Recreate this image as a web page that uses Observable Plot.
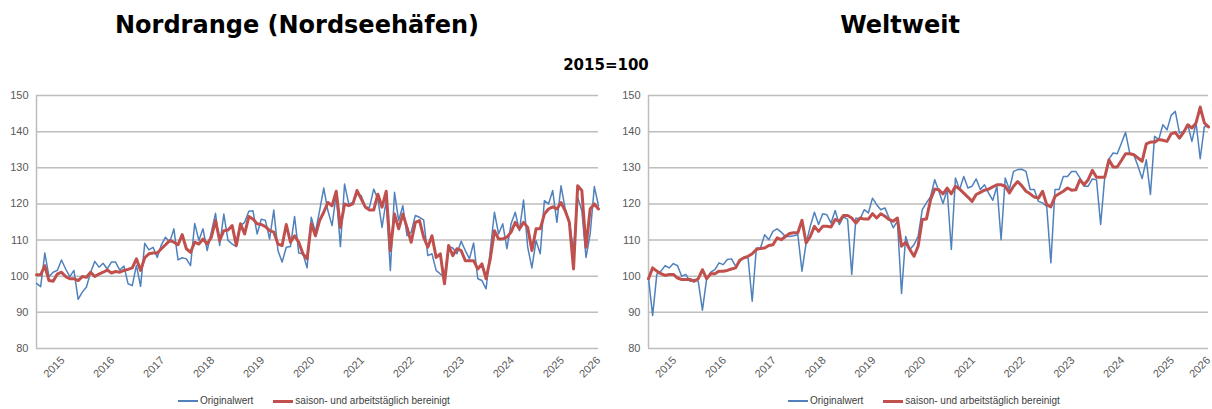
<!DOCTYPE html>
<html>
<head>
<meta charset="utf-8">
<script src="https://cdn.jsdelivr.net/npm/d3@7"></script>
<script src="https://cdn.jsdelivr.net/npm/@observablehq/plot@0.6"></script>
<style>
  html, body { margin: 0; padding: 0; background: #fff; }
  #wrap { position: relative; width: 1212px; height: 409px; overflow: hidden; background: #fff; }
  .title { position: absolute; transform: translateX(-50%); font-family: "DejaVu Sans", Verdana, sans-serif; font-weight: bold; color: #000; white-space: nowrap; line-height: 1; }
  .chart { position: absolute; top: 80px; }
  .legend { position: absolute; top: 396px; display: flex; align-items: center; font-family: "Liberation Sans", Arial, sans-serif; font-size: 10px; color: #404040; white-space: nowrap; line-height: 1; }
  .sw { display: inline-block; width: 20px; margin-right: 2px; }
  .gap { display: inline-block; width: 20px; }
</style>
</head>
<body>
<div id="wrap">
  <div class="title" style="left:297px; top:13px; font-size:24px;">Nordrange (Nordseehäfen)</div>
  <div class="title" style="left:900px; top:13px; font-size:24px;">Weltweit</div>
  <div class="title" style="left:606px; top:58px; font-size:15px;">2015=100</div>
  <div class="chart" id="left" style="left:0px;"></div>
  <div class="chart" id="right" style="left:606px;"></div>
  <div class="legend" id="legL" style="left:178px;"></div>
  <div class="legend" id="legR" style="left:788px;"></div>
</div>
<script>
// Monthly index values, Jan 2015 .. Apr 2026 (2015=100)
const nordOriginal = [
  98.0, 97.1, 106.4, 99.9, 101.1, 101.6, 104.5, 102.0, 99.9, 101.6, 93.6, 95.6,
  97.0, 101.1, 104.1, 102.5, 103.6, 102.0, 103.9, 103.9, 101.7, 102.8, 97.9, 97.4,
  103.0, 97.2, 109.1, 107.3, 108.0, 105.2, 108.7, 110.8, 109.4, 113.1, 104.5, 105.1,
  104.8, 102.9, 114.6, 109.9, 113.1, 107.1, 112.2, 117.4, 108.5, 117.2, 109.9, 108.9,
  108.2, 114.0, 114.9, 118.0, 118.1, 111.7, 115.8, 115.4, 110.3, 118.3, 107.1, 103.9,
  108.0, 108.2, 116.5, 106.4, 106.2, 102.3,
  116.3, 112.2, 118.1, 124.4, 118.1, 114.0, 122.7, 108.2, 125.5, 120.0, 120.4, 122.7,
  122.3, 119.1, 119.1, 124.1, 121.4, 113.5, 120.9, 101.6, 123.2, 115.4, 119.5, 111.2,
  112.2, 116.8, 116.3, 115.6, 105.7, 106.2, 101.6, 100.6, 99.9, 108.2, 107.8, 106.2,
  109.7, 107.1, 104.8, 109.2, 99.3, 98.8, 96.5, 107.1, 117.7, 111.7, 114.5, 107.6,
  114.5, 117.7, 112.6, 121.1, 108.0, 102.3, 109.9, 106.2, 120.9, 120.0, 123.7, 114.9,
  125.0, 118.6, 114.9, 107.1, 121.8, 118.1, 105.2, 111.7, 124.8, 119.5
];
const nordAdjusted = [
  100.4, 100.4, 102.9, 98.8, 98.6, 100.6, 101.1, 99.9, 99.3, 99.3, 98.8, 99.9,
  99.7, 101.1, 99.9, 100.6, 101.1, 101.7, 100.9, 101.3, 101.1, 101.6, 101.9, 102.3,
  104.8, 101.6, 105.1, 106.2, 106.4, 106.4, 107.6, 108.7, 109.9, 109.4, 108.7, 111.5,
  107.6, 106.6, 109.4, 108.9, 110.3, 108.9, 110.8, 115.4, 109.9, 112.6, 112.8, 114.0,
  108.5, 114.5, 111.7, 116.5, 115.8, 114.5, 114.3, 113.7, 112.6, 112.2, 108.9, 108.5,
  114.3, 109.4, 111.2, 109.4, 106.2, 104.8,
  114.5, 111.2, 115.4, 117.7, 120.4, 119.5, 123.5, 113.5, 120.0, 119.5, 120.0, 123.7,
  121.4, 119.1, 118.3, 118.3, 122.7, 119.1, 123.5, 107.1, 117.2, 113.1, 117.2, 113.5,
  109.4, 114.9, 115.4, 110.8, 108.0, 111.2, 105.2, 106.2, 97.9, 108.5, 105.7, 107.6,
  107.1, 104.3, 104.3, 104.3, 102.0, 103.4, 99.3, 104.8, 112.6, 110.3, 110.3, 110.8,
  112.2, 114.9, 113.1, 114.9, 113.5, 107.1, 113.1, 113.1, 117.2, 118.6, 119.2, 118.6,
  120.4, 118.1, 114.9, 102.0, 125.0, 123.7, 108.0, 118.6, 120.0, 118.6
];
const worldOriginal = [
  99.5, 89.1, 100.5, 101.4, 102.9, 102.3, 103.5, 102.9, 100.0, 100.5, 98.6, 99.1,
  98.6, 90.6, 99.1, 101.1, 101.8, 103.7, 103.2, 104.6, 104.8, 102.8, 104.1, 105.1,
  105.1, 93.1, 107.8, 107.8, 111.5, 110.1, 112.4, 113.1, 112.2, 111.0, 111.0, 111.2,
  111.5, 101.4, 109.2, 113.8, 117.7, 114.3, 117.3, 117.0, 114.7, 118.2, 114.3, 116.4,
  115.7, 100.5, 116.1, 115.8, 118.4, 117.5, 121.6, 119.8, 118.4, 118.9, 116.1, 113.4,
  115.2, 95.2, 111.0, 107.4, 108.7, 111.0,
  118.4, 120.3, 122.0, 126.7, 123.5, 120.1, 124.0, 107.4, 127.2, 124.0, 127.6, 124.4,
  124.9, 126.9, 124.0, 125.3, 123.0, 121.0, 124.9, 110.1, 127.2, 124.0, 129.0, 129.5,
  129.6, 129.0, 124.0, 124.0, 120.7, 120.3, 119.3, 103.7, 124.0, 124.0, 127.6, 127.6,
  129.0, 129.0, 127.2, 124.9, 124.9, 126.9, 126.7, 114.3, 127.6, 132.4, 134.1, 133.9,
  136.8, 139.8, 134.1, 133.6, 130.4, 127.0, 132.2, 122.6, 138.7, 137.8, 141.9, 140.5,
  144.5, 145.6, 139.6, 140.1, 141.9, 137.3, 142.4, 132.5, 141.4, 141.4
];
const worldAdjusted = [
  99.3, 102.3, 101.4, 100.7, 100.2, 100.5, 100.5, 99.5, 99.1, 99.1, 99.1, 98.6,
  99.3, 101.8, 99.3, 100.7, 100.7, 101.4, 101.4, 101.6, 102.0, 102.3, 104.4, 105.1,
  105.5, 106.2, 107.4, 107.7, 107.8, 108.5, 108.7, 110.6, 110.1, 111.0, 111.8, 112.0,
  112.0, 115.5, 109.2, 111.0, 113.8, 112.4, 113.8, 113.8, 113.6, 115.7, 115.2, 116.8,
  116.8, 116.1, 114.7, 116.1, 115.8, 115.8, 117.3, 116.1, 117.3, 116.6, 115.7, 115.2,
  116.1, 108.3, 109.4, 107.4, 105.5, 108.3,
  115.7, 115.8, 121.2, 124.1, 123.9, 122.8, 124.4, 122.8, 124.9, 124.1, 123.0, 121.9,
  120.7, 122.6, 123.2, 123.8, 124.1, 124.7, 125.3, 125.3, 124.9, 123.0, 124.9, 126.2,
  125.0, 123.5, 122.8, 121.9, 121.6, 123.5, 119.8, 119.2, 122.1, 122.8, 123.5, 124.4,
  123.8, 123.9, 126.7, 125.3, 126.7, 129.3, 127.4, 127.4, 127.4, 132.2, 130.2, 130.2,
  132.0, 133.9, 133.9, 133.6, 132.7, 131.8, 136.6, 137.1, 137.1, 137.8, 137.6, 137.3,
  139.4, 139.8, 138.2, 139.8, 141.9, 141.0, 142.4, 146.8, 142.4, 141.3
];

// x-axis labels (month index positions) and y ticks
const yearLabels = ["2015","2016","2017","2018","2019","2020","2021","2022","2023","2024","2025","2026"];
const yearTickMonth = [6.3, 18.3, 30.3, 42.3, 54.3, 66.3, 78.3, 90.3, 102.3, 114.3, 126.3, 135];
const yTicks = [80, 90, 100, 110, 120, 130, 140, 150];

const seriesNames = ["Originalwert", "saison- und arbeitstäglich bereinigt"];
const seriesColors = ["#4F81BD", "#C0504D"];
const seriesWidths = [1.5, 3];

function toRows(values) { return values.map((v, i) => ({ i, v })); }

function chart(orig, adj, marginLeft, marginRight) {
  const n = orig.length;
  return Plot.plot({
    width: 606,
    height: 310,
    marginTop: 15,
    marginBottom: 42,
    marginLeft,
    marginRight,
    style: { fontFamily: "'Liberation Sans', Arial, sans-serif", fontSize: "11px", color: "#595959", background: "transparent", overflow: "visible" },
    x: {
      type: "linear",
      domain: [0, n - 1],
      ticks: yearTickMonth,
      tickFormat: d => yearLabels[yearTickMonth.indexOf(d)],
      tickRotate: -45,
      tickSize: 0,
      tickPadding: 10,
      label: null
    },
    y: {
      domain: [80, 150],
      ticks: yTicks,
      tickFormat: d => String(d),
      tickSize: 0,
      tickPadding: 8,
      label: null
    },
    marks: [
      Plot.gridY(yTicks, { stroke: "#bdbdbd", strokeOpacity: 1, strokeWidth: 1.5 }),
      Plot.ruleX([0], { stroke: "#bdbdbd", strokeWidth: 1.5 }),
      Plot.line(toRows(orig), { x: "i", y: "v", stroke: seriesColors[0], strokeWidth: seriesWidths[0], strokeLinejoin: "round" }),
      Plot.line(toRows(adj), { x: "i", y: "v", stroke: seriesColors[1], strokeWidth: seriesWidths[1], strokeLinejoin: "round" })
    ]
  });
}

document.getElementById("left").appendChild(chart(nordOriginal, nordAdjusted, 36, 8));
document.getElementById("right").appendChild(chart(worldOriginal, worldAdjusted, 42, 4));

function legend(el) {
  seriesNames.forEach((name, k) => {
    if (k > 0) { const g = document.createElement("span"); g.className = "gap"; el.appendChild(g); }
    const sw = document.createElement("span");
    sw.className = "sw";
    sw.style.borderTop = `${seriesWidths[k] + 0.5}px solid ${seriesColors[k]}`;
    el.appendChild(sw);
    const t = document.createElement("span");
    t.textContent = name;
    el.appendChild(t);
  });
}
legend(document.getElementById("legL"));
legend(document.getElementById("legR"));
</script>
</body>
</html>
